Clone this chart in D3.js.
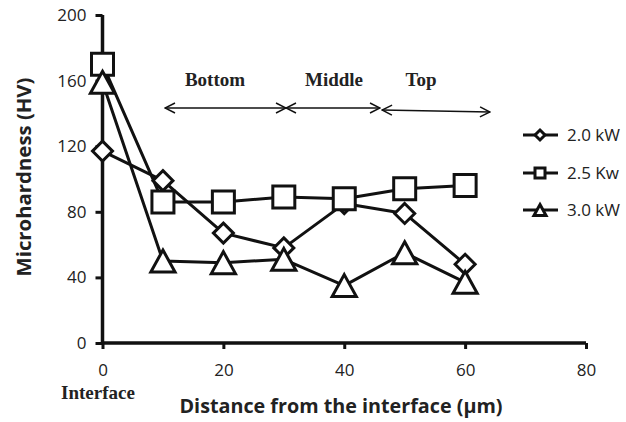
<!DOCTYPE html>
<html><head><meta charset="utf-8">
<script src="https://cdn.jsdelivr.net/npm/d3@7"></script>
<style>body{margin:0;background:#fff}svg{display:block}</style>
</head><body>
<script>
const distances = [0, 10, 20, 30, 40, 50, 60];
const hv20 = [117, 99, 67, 58, 85, 79, 48];
const hv25 = [170, 86, 86, 89, 88, 94, 96];
const hv30 = [159, 50, 49, 51, 35, 55, 37];
const seriesNames = ["2.0 kW", "2.5 Kw", "3.0 kW"];
const xTicks = [0, 20, 40, 60, 80];
const yTicks = [0, 40, 80, 120, 160, 200];
const zones = ["Bottom", "Middle", "Top"];

const W = 626, H = 422;
const svg = d3.select("body").append("svg").attr("width", W).attr("height", H);
const x = d3.scaleLinear().domain([0, 80]).range([102.5, 586]);
const y = d3.scaleLinear().domain([0, 200]).range([343, 15]);
const sans = "'Open Sans', 'DejaVu Sans', sans-serif";
const serif = "'Liberation Serif', 'Times New Roman', serif";

// axes
const xa = svg.append("g").attr("transform", `translate(0,${y(0)})`)
  .call(d3.axisBottom(x).tickValues(xTicks).tickSize(6).tickPadding(15).tickSizeOuter(0));
const ya = svg.append("g").attr("transform", `translate(${x(0)},0)`)
  .call(d3.axisLeft(y).tickValues(yTicks).tickSize(7).tickPadding(9).tickSizeOuter(0));
[xa, ya].forEach(a => {
  a.select(".domain").attr("stroke", "#111").attr("stroke-width", 3.5);
  a.selectAll(".tick line").attr("stroke", "#111").attr("stroke-width", 3);
  a.selectAll(".tick text").attr("font-family", sans).attr("font-size", 17).attr("fill", "#222");
});
xa.select(".domain").attr("d", `M${x(0)},0H${x(80)}`);
ya.select(".domain").attr("d", `M0,${y(0)}V${y(200)}`);

// symbols
function markerPath(kind, s) {
  if (kind === 0) return `M0,${-s}L${s},0L0,${s}L${-s},0Z`;
  if (kind === 1) return `M${-s},${-s}H${s}V${s}H${-s}Z`;
  return `M0,${-s}L${s * 1.1},${s}H${-s * 1.1}Z`;
}
const series = [hv20, hv25, hv30];
const sizes = [10, 11, 11];
const line = d3.line().x(d => x(d[0])).y(d => y(d[1]));
series.forEach((vals, k) => {
  const pts = distances.map((d, i) => [d, vals[i]]);
  svg.append("path").attr("d", line(pts)).attr("fill", "none")
    .attr("stroke", "#111").attr("stroke-width", 3).attr("stroke-linejoin", "round");
});
series.forEach((vals, k) => {
  svg.append("g").selectAll("path").data(distances.map((d, i) => [d, vals[i]])).join("path")
    .attr("transform", d => `translate(${x(d[0])},${y(d[1])})`)
    .attr("d", markerPath(k, sizes[k]))
    .attr("fill", "#fff").attr("stroke", "#111").attr("stroke-width", 3).attr("stroke-linejoin", "miter");
});

// legend
const ly = [135, 173, 210];
seriesNames.forEach((n, k) => {
  const g = svg.append("g").attr("transform", `translate(540,${ly[k]})`);
  g.append("line").attr("x1", -17).attr("x2", 18).attr("stroke", "#111").attr("stroke-width", 3);
  g.append("path").attr("d", markerPath(k, k === 2 ? 5.5 : 5)).attr("fill", "#fff")
    .attr("stroke", "#111").attr("stroke-width", 3);
  svg.append("text").attr("x", 567).attr("y", ly[k] + 6).text(n)
    .attr("font-family", sans).attr("font-size", 17).attr("fill", "#222");
});

// zone annotations
const defs = svg.append("defs");
defs.append("marker").attr("id", "ah").attr("viewBox", "0 0 12 12").attr("refX", 11).attr("refY", 6)
  .attr("markerWidth", 12).attr("markerHeight", 12).attr("markerUnits", "userSpaceOnUse")
  .attr("orient", "auto-start-reverse")
  .append("path").attr("d", "M1,1L11,6L1,11").attr("fill", "none").attr("stroke", "#111").attr("stroke-width", 1.5);
const arrows = [[165, 108, 286, 108], [286, 108, 380, 108], [382, 110, 490, 112]];
arrows.forEach(a => {
  svg.append("line").attr("x1", a[0]).attr("y1", a[1]).attr("x2", a[2]).attr("y2", a[3])
    .attr("stroke", "#111").attr("stroke-width", 1.5)
    .attr("marker-start", "url(#ah)").attr("marker-end", "url(#ah)");
});
const zoneX = [215, 334, 421];
zones.forEach((z, i) => {
  svg.append("text").attr("x", zoneX[i]).attr("y", 86).attr("text-anchor", "middle").text(z)
    .attr("font-family", serif).attr("font-weight", "bold").attr("font-size", 19).attr("fill", "#222");
});
svg.append("text").attr("x", 98).attr("y", 399).attr("text-anchor", "middle").text("Interface")
  .attr("font-family", serif).attr("font-weight", "bold").attr("font-size", 19).attr("fill", "#222");

// axis titles
svg.append("text").attr("x", 341).attr("y", 413).attr("text-anchor", "middle")
  .text("Distance from the interface (μm)")
  .attr("textLength", 323).attr("lengthAdjust", "spacingAndGlyphs")
  .attr("font-family", sans).attr("font-weight", "bold").attr("font-size", 20).attr("fill", "#222");
svg.append("text").attr("transform", "translate(31,177) rotate(-90)").attr("text-anchor", "middle")
  .text("Microhardness (HV)")
  .attr("textLength", 199).attr("lengthAdjust", "spacingAndGlyphs")
  .attr("font-family", sans).attr("font-weight", "bold").attr("font-size", 20).attr("fill", "#222");
</script>
</body></html>
